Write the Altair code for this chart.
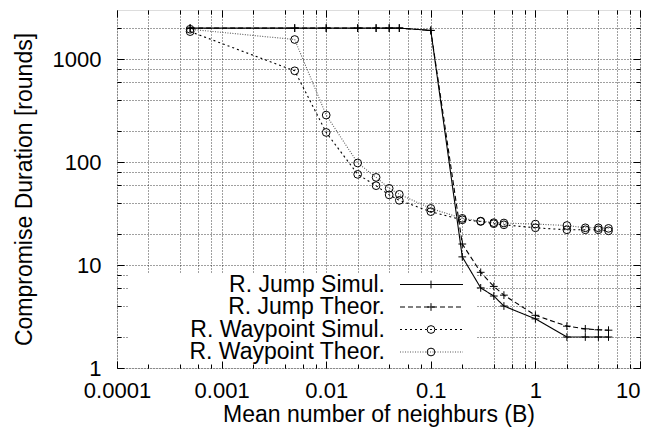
import altair as alt
import pandas as pd

# ---- data ----
B = [0.0005, 0.005, 0.01, 0.02, 0.03, 0.04, 0.05, 0.1, 0.2, 0.3, 0.4, 0.5, 1, 2, 3, 4, 5]
jump_simul = [2000, 2000, 2000, 2000, 2000, 2000, 2000, 1900, 12, 6, 5, 4, 3, 2, 2, 2, 2]
jump_theor = [2000, 2000, 2000, 2000, 2000, 2000, 2000, 1900, 16, 8.5, 6.2, 5.1, 3.25, 2.55, 2.4, 2.35, 2.33]
wp_simul = [1850, 770, 194, 76, 59, 48, 42.5, 33, 27.5, 26.5, 25.2, 24.6, 23, 22, 22, 22, 21.5]
wp_theor = [1950, 1550, 286, 98, 71, 55.6, 48.6, 35.5, 28.4, 26.7, 25.8, 25.6, 25, 24.2, 23, 23, 22.7]

series_names = ["R. Jump Simul.", "R. Jump Theor.", "R. Waypoint Simul.", "R. Waypoint Theor."]
series_values = [jump_simul, jump_theor, wp_simul, wp_theor]

x_major = [0.0001, 0.001, 0.01, 0.1, 1, 10]
x_minor = [m * 10.0 ** e for e in range(-4, 1) for m in (2, 4, 6, 8)]
y_major = [1, 10, 100, 1000]
y_minor = [m * 10.0 ** e for e in range(0, 4) for m in (2, 4, 6, 8) if m * 10.0 ** e <= 3000]

rows = []
for name, vals in zip(series_names, series_values):
    for b, v in zip(B, vals):
        rows.append({"B": b, "value": v, "series": name})
df = pd.DataFrame(rows)
legend_df = pd.DataFrame({"series": series_names, "order": list(range(len(series_names)))})

# ---- styling ----
W, H = 523, 358
FONT = "Liberation Sans"
xscale = alt.Scale(type="log", domain=[0.0001, 10], nice=False)
yscale = alt.Scale(type="log", domain=[1, 3000], nice=False)

color_scale = alt.Scale(domain=series_names, range=["#000000", "#000000", "#000000", "#5a5a5a"])
dash_scale = alt.Scale(domain=series_names, range=[[1, 0], [5, 3], [2, 3], [1, 1.5]])
plus = "M-1,0H1M0,-1V1"
shape_scale = alt.Scale(domain=series_names, range=[plus, plus, "circle", "circle"])


def axis_layer(xaxis, yaxis):
    return alt.Chart(df).mark_point(opacity=0).encode(
        x=alt.X("B:Q", scale=xscale, axis=xaxis),
        y=alt.Y("value:Q", scale=yscale, axis=yaxis),
    )


common = dict(labels=False, domain=False, title=None)
grid_layer = axis_layer(
    alt.Axis(values=x_major + x_minor, grid=True, ticks=False, gridDash=[1, 2],
             gridColor="#000000", gridOpacity=0.75, gridWidth=1, zindex=0, orient="bottom", **common),
    alt.Axis(values=y_major + y_minor, grid=True, ticks=False, gridDash=[1, 2],
             gridColor="#000000", gridOpacity=0.75, gridWidth=1, zindex=0, orient="left", **common),
)

label_layer = axis_layer(
    alt.Axis(values=x_major, format="~g", grid=False, ticks=False, domain=False, orient="bottom",
             title="Mean number of neighburs (B)", labelFont=FONT, labelFontSize=22,
             labelColor="#000", labelPadding=12, titleFont=FONT, titleFontSize=23,
             titleFontWeight="normal", titleColor="#000", titlePadding=2, labelFlush=False,
             labelOverlap=False,
             labelAlign=alt.expr("datum.value >= 10 ? 'right' : 'center'")),
    alt.Axis(values=y_major, format="~g", grid=False, ticks=False, domain=False, orient="left",
             title="Compromise Duration [rounds]", labelFont=FONT, labelFontSize=22,
             labelColor="#000", labelPadding=16, titleFont=FONT, titleFontSize=23,
             titleFontWeight="normal", titleColor="#000", titlePadding=16, labelFlush=False,
             labelOverlap=False),
)


def tick_layer(xvals, yvals, size, xorient, yorient):
    return axis_layer(
        alt.Axis(values=xvals, grid=False, ticks=True, tickSize=size, offset=-size, tickColor="#000",
                 tickWidth=1, orient=xorient, zindex=1, **common),
        alt.Axis(values=yvals, grid=False, ticks=True, tickSize=size, offset=-size, tickColor="#000",
                 tickWidth=1, orient=yorient, zindex=1, **common),
    )


ticks = [
    tick_layer(x_major, y_major, 7, "bottom", "left"),
    tick_layer(x_minor, y_minor, 4, "bottom", "left"),
    tick_layer(x_major, y_major, 7, "top", "right"),
    tick_layer(x_minor, y_minor, 4, "top", "right"),
]

# white key box
key_box = alt.Chart(pd.DataFrame({"k": [0]})).mark_rect(fill="white").encode(
    x=alt.value(11), x2=alt.value(360), y=alt.value(263), y2=alt.value(357)
)

enc_color = alt.Color("series:N", scale=color_scale, legend=None)
enc_dash = alt.StrokeDash("series:N", scale=dash_scale, legend=None)
enc_shape = alt.Shape("series:N", scale=shape_scale, legend=None)

lines = alt.Chart(df).mark_line(strokeWidth=1.1).encode(
    x=alt.X("B:Q", scale=xscale, axis=None),
    y=alt.Y("value:Q", scale=yscale, axis=None),
    color=enc_color, strokeDash=enc_dash, detail="series:N",
)
points = alt.Chart(df).mark_point(filled=False, size=60, strokeWidth=1, opacity=1, color="#000").encode(
    x=alt.X("B:Q", scale=xscale, axis=None),
    y=alt.Y("value:Q", scale=yscale, axis=None),
    shape=enc_shape,
)

ly = alt.Y("order:Q", scale=alt.Scale(domain=[0, 3], range=[274.5, 342]), axis=None)
key_text = alt.Chart(legend_df).mark_text(align="right", baseline="middle", font=FONT,
                                          fontSize=23, color="#000").encode(
    x=alt.value(268), y=ly, text="series:N"
)
key_line = alt.Chart(legend_df).mark_rule(strokeWidth=1.1).encode(
    x=alt.value(283), x2=alt.value(346), y=ly, color=enc_color, strokeDash=enc_dash
)
key_mark = alt.Chart(legend_df).mark_point(filled=False, size=60, strokeWidth=1, opacity=1, color="#000").encode(
    x=alt.value(314), y=ly, shape=enc_shape
)

chart = alt.layer(
    grid_layer, label_layer, *ticks, key_box, lines, points, key_line, key_mark, key_text
).resolve_scale(y="independent").resolve_axis(x="independent", y="independent").properties(
    width=W, height=H,
    autosize=alt.AutoSizeParams(type="none"),
    padding={"left": 109, "top": 2, "right": 2, "bottom": 61},
).configure_view(stroke="#000", strokeWidth=1.2).configure(background="white")

chart.save("out.html", embed_options={"renderer": "svg", "actions": False})
